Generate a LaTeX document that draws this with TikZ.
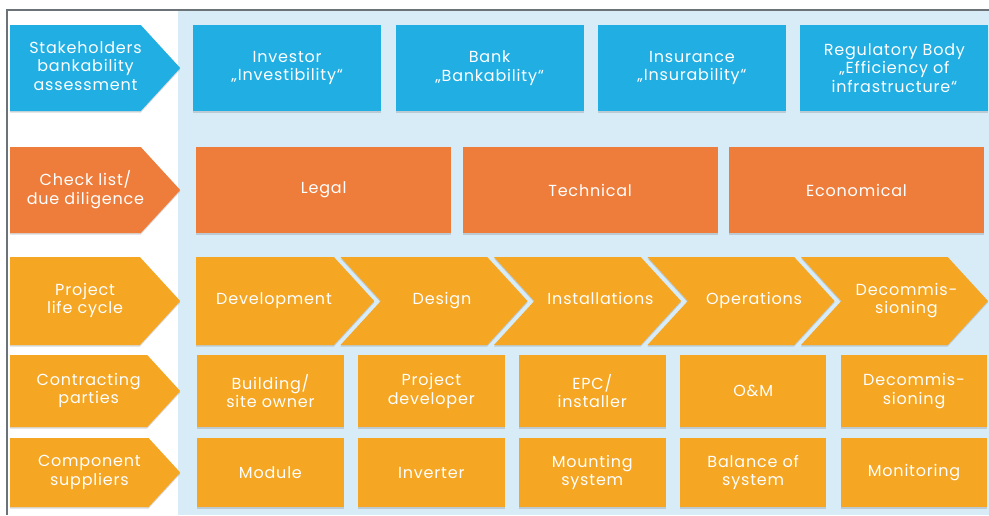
\documentclass[tikz,border=0pt]{standalone}
\usepackage{fontspec}
\setmainfont{Poppins}[LetterSpace=5]
\usetikzlibrary{positioning,shapes.symbols,shadows}
\definecolor{skyblue}{HTML}{20AEE3}
\definecolor{rust}{HTML}{EE7D3C}
\definecolor{amber}{HTML}{F5A623}
\definecolor{paleblue}{HTML}{D7ECF7}
\definecolor{frame}{HTML}{6B7278}
\newcommand{\padtext}[2]{\begin{tabular}{@{\hspace{#1}}c@{\hspace{-#1}}}#2\end{tabular}}
\begin{document}
\begin{tikzpicture}[x=1pt, y=-1pt, node distance=14pt,
  cell/.style={shape=rectangle, anchor=west, inner sep=0pt, text=white, align=center,
    font=\fontsize{16}{18.5}\selectfont,
    drop shadow={shadow xshift=0pt, shadow yshift=-1.5pt, opacity=0.3}},
  tag/.style={cell, shape=signal, signal to=east, signal pointer angle=95, minimum width=170pt},
  chev/.style={cell, shape=signal, signal from=west, signal to=east, signal pointer angle=95,
    anchor=center, minimum width=187pt, minimum height=88pt}]
\useasboundingbox (0,0) rectangle (989,515);
\fill [white] (0,0) rectangle (989,515);
\fill [paleblue] (178,10) rectangle (989,515);
\draw [frame, line width=1.2pt] (7,515) -- (7,10) -- (989,10);

\node [tag, fill=skyblue, minimum height=86pt] (L1) at (10,68) {\padtext{10pt}{Stakeholders\\bankability\\assessment}};
\node [tag, fill=rust, minimum height=86pt] (L2) at (10,190) {\padtext{10pt}{Check list/\\due diligence}};
\node [tag, fill=amber, minimum height=88pt] (L3) at (10,301) {\padtext{10pt}{Project\\life cycle}};
\node [tag, fill=amber, minimum height=72pt] (L4) at (10,391) {\padtext{10pt}{Contracting\\parties}};
\node [tag, fill=amber, minimum height=69pt] (L5) at (10,472.5) {\padtext{10pt}{Component\\suppliers}};

\node [cell, fill=skyblue, minimum width=188pt, minimum height=86pt] (Inv) at (193,68) {Investor\\„Investibility“};
\node [cell, fill=skyblue, minimum width=188pt, minimum height=86pt, right=of Inv] (Bank) {Bank\\„Bankability“};
\node [cell, fill=skyblue, minimum width=188pt, minimum height=86pt, right=of Bank] (Ins) {Insurance\\„Insurability“};
\node [cell, fill=skyblue, minimum width=188pt, minimum height=86pt, right=of Ins] (Reg) {Regulatory Body\\„Efficiency of\\infrastructure“};

\node [cell, fill=rust, minimum width=255pt, minimum height=86pt] (Leg) at (196,190) {Legal};
\node [cell, fill=rust, minimum width=255pt, minimum height=86pt, right=11pt of Leg] (Tec) {Technical};
\node [cell, fill=rust, minimum width=255pt, minimum height=86pt, right=11pt of Tec] (Eco) {Economical};

\node [cell, shape=signal, signal to=east, signal pointer angle=95, fill=amber, minimum width=178pt, minimum height=88pt] (Dev) at (196,301) {\padtext{9pt}{Development}};
\node [chev, fill=amber] (Des) at (434,301) {\padtext{8pt}{Design}};
\node [chev, fill=amber] (Inst) at (587.5,301) {\padtext{13pt}{Installations}};
\node [chev, fill=amber] (Ops) at (741,301) {\padtext{13pt}{Operations}};
\node [chev, fill=amber] (Dec) at (894.5,301) {\padtext{12pt}{Decommis-\\sioning}};

\node [cell, fill=amber, minimum width=146.5pt, minimum height=72pt] (Own) at (197,391) {Building/\\site owner};
\node [cell, fill=amber, minimum width=146.5pt, minimum height=72pt, right=of Own] (Pdev) {Project\\developer};
\node [cell, fill=amber, minimum width=146.5pt, minimum height=72pt, right=of Pdev] (Epc) {EPC/\\installer};
\node [cell, fill=amber, minimum width=146.5pt, minimum height=72pt, right=of Epc] (OaM) {O\&M};
\node [cell, fill=amber, minimum width=146.5pt, minimum height=72pt, right=of OaM] (Dcm) {Decommis-\\sioning};

\node [cell, fill=amber, minimum width=146.5pt, minimum height=69pt] (Mod) at (197,472.5) {Module};
\node [cell, fill=amber, minimum width=146.5pt, minimum height=69pt, right=of Mod] (Invr) {Inverter};
\node [cell, fill=amber, minimum width=146.5pt, minimum height=69pt, right=of Invr] (Mnt) {Mounting\\system};
\node [cell, fill=amber, minimum width=146.5pt, minimum height=69pt, right=of Mnt] (Bos) {Balance of\\system};
\node [cell, fill=amber, minimum width=146.5pt, minimum height=69pt, right=of Bos] (Mon) {Monitoring};
\end{tikzpicture}
\end{document}
